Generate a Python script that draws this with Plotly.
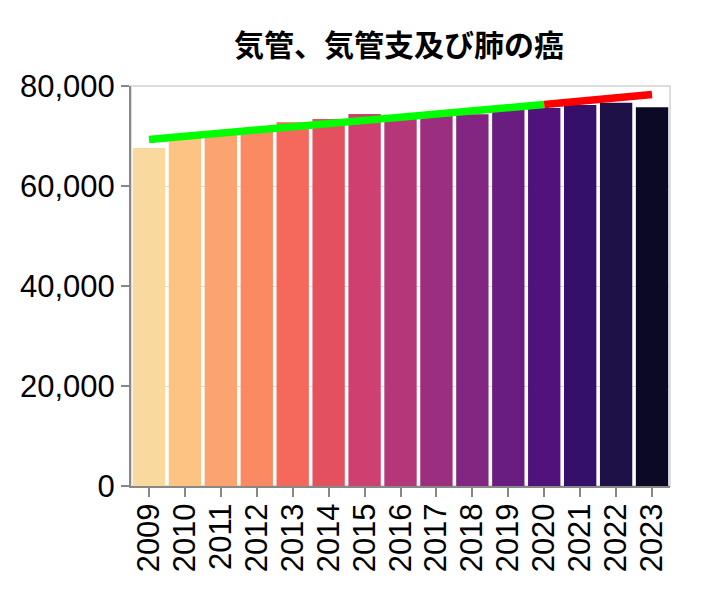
import plotly.graph_objects as go

years = [2009, 2010, 2011, 2012, 2013, 2014, 2015, 2016, 2017, 2018, 2019, 2020, 2021, 2022, 2023]
deaths = [67583, 69813, 70293, 71518, 72734, 73396, 74378, 73838, 74120, 74328, 75394, 75585, 76212, 76663, 75762]

trend_years = [2009, 2020]
trend_values = [69300, 76300]
forecast_years = [2020, 2023]
forecast_values = [76300, 78300]

y_ticks = [0, 20000, 40000, 60000, 80000]
title_text = "気管、気管支及び肺の癌"

bar_colors = ["#f9d99e", "#fdc383", "#fca46f", "#fb8a63", "#f4695c", "#e3515f", "#cd4070",
              "#b63779", "#9c2e7f", "#832681", "#6a1d80", "#51127c", "#35106b", "#1e1147", "#0b0924"]

tick_font = dict(family="Liberation Sans, Arial, sans-serif", size=31, color="black")

fig = go.Figure()
fig.add_trace(go.Bar(x=years, y=deaths, width=0.9, marker=dict(color=bar_colors, line=dict(width=0)),
                     showlegend=False))
fig.add_trace(go.Scatter(x=trend_years, y=trend_values, mode="lines",
                         line=dict(color="#00ff00", width=7.5), showlegend=False))
fig.add_trace(go.Scatter(x=forecast_years, y=forecast_values, mode="lines",
                         line=dict(color="#ff0000", width=7.5), showlegend=False))

fig.update_layout(
    width=706, height=600,
    margin=dict(l=123, r=44, t=78, b=122, autoexpand=False),
    paper_bgcolor="white", plot_bgcolor="white",
    title=dict(text="<b>" + title_text + "</b>", x=391 / 706, xanchor="center", y=1 - 37 / 600, yanchor="middle",
               font=dict(family="Noto Sans CJK JP", size=30, color="black")),
    xaxis=dict(range=[2008.5, 2023.5], tickmode="array", tickvals=years, ticktext=[str(y) for y in years],
               tickangle=-90, ticks="outside", ticklen=9, tickcolor="#888", tickwidth=2,
               showline=True, linecolor="#888", linewidth=2, showgrid=False, zeroline=False,
               tickfont=tick_font, automargin=False, ticklabelstandoff=-6),
    yaxis=dict(range=[0, 80000], tickmode="array", tickvals=y_ticks,
               ticktext=[f"{v:,}" for v in y_ticks], ticks="outside", ticklen=8, tickcolor="#888",
               tickwidth=2, showline=True, linecolor="#888", linewidth=2, showgrid=True,
               gridcolor="#ddd", gridwidth=1, zeroline=False, tickfont=tick_font, automargin=False),
    shapes=[dict(type="rect", xref="paper", yref="paper", x0=0, x1=1, y0=0, y1=1,
                 line=dict(color="#ddd", width=2), layer="below")],
)

fig.write_html("out.html")
